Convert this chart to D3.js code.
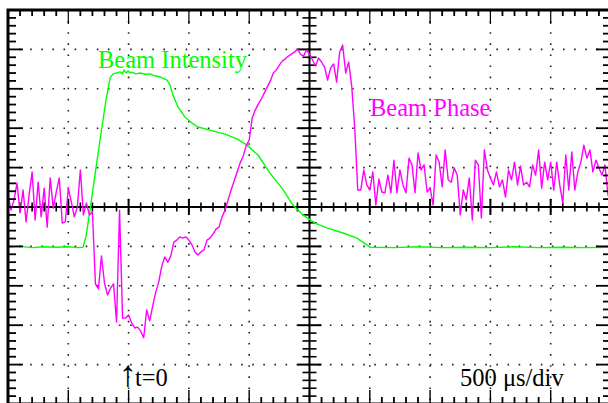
<!DOCTYPE html>
<html>
<head>
<meta charset="utf-8">
<script src="https://cdn.jsdelivr.net/npm/d3@7"></script>
<style>
  html, body { margin: 0; padding: 0; background: #fff; }
  svg { display: block; }
  text { font-family: "Liberation Serif", "Times New Roman", "DejaVu Serif", serif; }
</style>
</head>
<body>
<svg id="chart" width="608" height="403"></svg>
<script>
// ---------------- DATA ----------------
// Time axis: 500 µs/div, t=0 at second division
const timeDomain = [-1000, 4000];
// vertical axis in screen divisions
const valueDomain = [-5, 5];

// Beam Intensity (green): time (µs) and value (div)
const intensityTime = [-1000, -900, -800, -700, -600, -500, -420, -378, -353, -320, -279, -237, -187, -154, -129, -100, -71, -50, -38, -20, -5, 10, 28, 60, 95, 140, 177, 220, 260, 318, 343, 368, 410, 468, 526, 575, 675, 799, 899, 982, 1073, 1172, 1272, 1363, 1446, 1546, 1645, 1778, 1894, 2002, 2200, 2400, 2600, 2800, 3000, 3200, 3400, 3600, 3800, 4000];
const intensityValue = [-1.02, -1.00, -1.03, -1.01, -1.02, -1.01, -1.03, -1.02, -0.74, -0.08, 0.81, 1.70, 2.72, 3.27, 3.38, 3.40, 3.43, 3.38, 3.48, 3.40, 3.45, 3.41, 3.42, 3.38, 3.40, 3.37, 3.38, 3.33, 3.30, 3.22, 3.10, 2.84, 2.54, 2.28, 2.13, 2.03, 1.95, 1.85, 1.73, 1.57, 1.32, 0.86, 0.48, 0.05, -0.20, -0.41, -0.53, -0.66, -0.79, -1.02, -1.03, -1.01, -1.03, -1.02, -1.03, -1.01, -1.03, -1.02, -1.03, -1.02];

// Beam Phase (magenta): uniformly sampled every 25 µs from -1000 µs, value (div)
const phaseStart = -1000;
const phaseStep = 25;
const phaseValue = [
  0.30, -0.08, 0.18, 0.61, -0.15, 0.43, -0.38, 0.30, 0.89, -0.33,
  0.63, -0.25, 0.48, -0.51, 0.74, -0.03, 0.38, 0.74, -0.41, -0.38,
  0.48, 0.13, -0.25, 0.00, 0.94, -0.20, 0.10, -0.20, -0.13, -1.95,
  -2.08, -1.24, -1.93, -2.23, -2.06, -1.95, -2.92, -0.08, -2.82, -2.82,
  -2.74, -2.94, -3.07, -3.05, -3.15, -3.32, -2.61, -2.89, -2.51, -2.16,
  -1.90, -1.50, -1.27, -1.40, -1.24, -0.89, -0.84, -0.76, -0.79, -0.76,
  -0.84, -0.96, -1.14, -1.22, -1.14, -1.09, -0.84, -0.79, -0.69, -0.56,
  -0.51, -0.25, -0.08, 0.18, 0.43, 0.66, 0.89, 1.12, 1.29, 1.55,
  1.70, 2.26, 2.46, 2.61, 2.74, 2.89, 3.05, 3.20, 3.40, 3.48,
  3.60, 3.71, 3.76, 3.83, 3.88, 3.93, 4.01, 3.88, 3.83, 3.98,
  3.88, 3.73, 3.58, 3.78, 3.68, 3.55, 3.22, 3.53, 3.63, 3.17,
  3.93, 4.11, 3.40, 3.68, 3.07, 2.01, 0.43, 0.43, 0.94, 0.56,
  0.43, 0.89, 0.05, 0.71, 0.38, 0.36, 0.81, 0.36, 1.19, 0.36,
  0.94, 0.56, 0.36, 1.24, 1.07, 0.36, 1.37, 0.94, 1.07, 0.38,
  0.48, 0.05, 1.32, 1.14, 0.51, 1.45, 0.69, 0.63, 0.99, 0.81,
  -0.20, 0.43, 0.18, 0.74, -0.33, 1.19, 1.07, -0.28, 1.45, 0.94,
  0.74, 0.56, 0.89, 0.51, 0.69, 0.25, 0.94, 0.69, 1.14, 0.56,
  1.04, 0.56, 0.63, 0.51, 1.07, 0.81, 1.45, 0.48, 1.14, 0.69,
  1.14, 0.43, 1.14, 0.56, 0.10, 1.32, 0.43, 1.40, 0.43, 0.89,
  1.14, 1.57, 1.24, 1.45, 0.89, 1.19, 0.99, 0.81, 1.07, 0.30,
  0.94
];

// Labels
const labels = [
  { text: "Beam Intensity", t: -254, v: 3.53, color: "#00ff00" },
  { text: "Beam Phase", t: 2002, v: 2.31, color: "#ff00ff" },
  { text: "500 \u03bcs/div", t: 2748, v: -4.55, color: "#000000" }
];
const markerLabel = { arrow: "\u2191", text: "t=0", t: -80, v: -4.55 };

// ---------------- DRAW ----------------
const svg = d3.select("#chart");
const W = 608, H = 403;
svg.append("rect").attr("width", W).attr("height", H).attr("fill", "#fff");

const x = d3.scaleLinear().domain(timeDomain).range([8, 611]);
const y = d3.scaleLinear().domain(valueDomain).range([404, 10]);

const xMajor = d3.range(timeDomain[0], timeDomain[1] + 1, 500);
const xMinor = d3.range(timeDomain[0], timeDomain[1] + 1, 100);
const yMajor = d3.range(valueDomain[0], valueDomain[1] + 0.001, 1);
const yMinor = d3.range(0, 51).map(i => valueDomain[0] + i * 0.2);

const x0 = x(1500), y0 = y(0);
const L = x(timeDomain[0]), R = x(timeDomain[1]), T = y(valueDomain[1]), B = y(valueDomain[0]);

// dotted grid
const grid = svg.append("g");
grid.selectAll(".hg").data(yMajor.filter(v => v !== 0 && v > valueDomain[0] && v < valueDomain[1]))
  .join("line")
  .attr("x1", L).attr("x2", R)
  .attr("y1", d => y(d)).attr("y2", d => y(d))
  .attr("stroke", "#222").attr("stroke-width", 1.6)
  .attr("stroke-dasharray", "1.6,9.5");
grid.selectAll(".vg").data(xMajor.filter(t => t !== 1500 && t > timeDomain[0] && t < timeDomain[1]))
  .join("line")
  .attr("y1", T).attr("y2", B)
  .attr("x1", d => x(d)).attr("x2", d => x(d))
  .attr("stroke", "#222").attr("stroke-width", 1.6)
  .attr("stroke-dasharray", "1.6,9.5");

// center axes
const ax = svg.append("g").attr("stroke", "#000");
ax.append("line").attr("x1", L).attr("x2", R).attr("y1", y0).attr("y2", y0).attr("stroke-width", 2);
ax.append("line").attr("x1", x0).attr("x2", x0).attr("y1", T).attr("y2", B).attr("stroke-width", 2);
ax.selectAll(".cxt").data(xMinor).join("line")
  .attr("x1", d => x(d)).attr("x2", d => x(d))
  .attr("y1", d => y0 - ((d % 500 === 0) ? 8 : 4.5))
  .attr("y2", d => y0 + ((d % 500 === 0) ? 8 : 4.5))
  .attr("stroke-width", d => (d % 500 === 0) ? 2 : 1.6);
ax.selectAll(".cyt").data(yMinor).join("line")
  .attr("y1", d => y(d)).attr("y2", d => y(d))
  .attr("x1", d => x0 - ((Math.abs(d - Math.round(d)) < 1e-6) ? 12 : 7))
  .attr("x2", d => x0 + ((Math.abs(d - Math.round(d)) < 1e-6) ? 12 : 7))
  .attr("stroke-width", d => (Math.abs(d - Math.round(d)) < 1e-6) ? 2 : 1.6);

// traces
const defs = svg.append("defs");
defs.append("clipPath").attr("id", "clip").append("rect")
  .attr("x", L).attr("y", T).attr("width", R - L).attr("height", B - T);

const traces = svg.append("g").attr("clip-path", "url(#clip)");
const line = d3.line().x(d => x(d[0])).y(d => y(d[1]));

const intensity = intensityTime.map((t, i) => [t, intensityValue[i]]);
const phase = phaseValue.map((v, i) => [phaseStart + i * phaseStep, v]);

traces.append("path").datum(intensity)
  .attr("d", line).attr("fill", "none")
  .attr("stroke", "#00ff00").attr("stroke-width", 1.4).attr("stroke-linejoin", "round");
traces.append("path").datum(phase)
  .attr("d", line).attr("fill", "none")
  .attr("stroke", "#ff00ff").attr("stroke-width", 1.4).attr("stroke-linejoin", "round");

// border ticks
const bt = svg.append("g").attr("stroke", "#000");
const isMajX = d => d % 500 === 0;
const isMajY = d => Math.abs(d - Math.round(d)) < 1e-6;
bt.selectAll(".tt").data(xMinor).join("line")
  .attr("x1", d => x(d)).attr("x2", d => x(d))
  .attr("y1", T).attr("y2", d => T + (isMajX(d) ? 14 : 6))
  .attr("stroke-width", d => isMajX(d) ? 1.2 : 1.8);
bt.selectAll(".bt").data(xMinor).join("line")
  .attr("x1", d => x(d)).attr("x2", d => x(d))
  .attr("y1", B).attr("y2", d => B - (isMajX(d) ? 14 : 7))
  .attr("stroke-width", d => isMajX(d) ? 1.4 : 1.8);
bt.selectAll(".lt").data(yMinor).join("line")
  .attr("y1", d => y(d)).attr("y2", d => y(d))
  .attr("x1", L).attr("x2", d => L + (isMajY(d) ? 15 : 8))
  .attr("stroke-width", 1.8);
bt.selectAll(".rt").data(yMinor).join("line")
  .attr("y1", d => y(d)).attr("y2", d => y(d))
  .attr("x1", R).attr("x2", d => R - (isMajY(d) ? 15 : 8))
  .attr("stroke-width", 1.8);

// frame
svg.append("rect").attr("x", L).attr("y", T).attr("width", R - L).attr("height", B - T)
  .attr("fill", "none").attr("stroke", "#000").attr("stroke-width", 3);

// labels
svg.append("g").selectAll("text").data(labels).join("text")
  .attr("x", d => x(d.t)).attr("y", d => y(d.v))
  .attr("fill", d => d.color)
  .attr("font-size", "24.5px")
  .text(d => d.text);

const mk = svg.append("text")
  .attr("x", x(markerLabel.t)).attr("y", y(markerLabel.v))
  .attr("fill", "#000").attr("font-size", "24.5px");
mk.append("tspan").attr("font-size", "36px").text(markerLabel.arrow);
mk.append("tspan").attr("dx", -2).text(markerLabel.text);
</script>
</body>
</html>
